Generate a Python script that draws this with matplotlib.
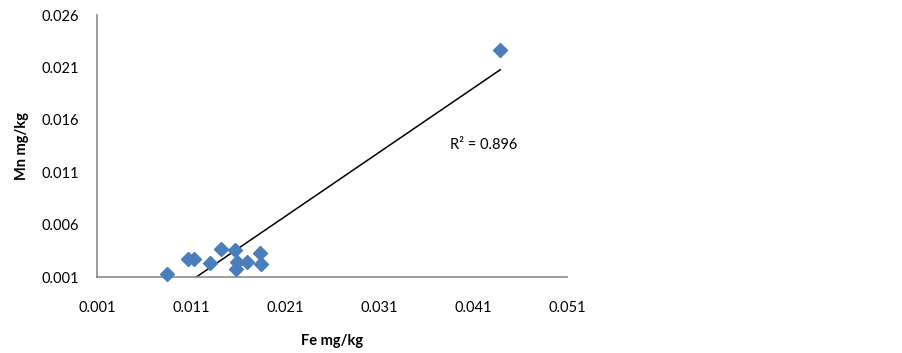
import numpy as np
import matplotlib
matplotlib.use("Agg")
import matplotlib.pyplot as plt

plt.rcParams['font.family'] = ['Lato', 'DejaVu Sans']

# Data
fe = [0.0084, 0.01065, 0.0113, 0.0130, 0.0142, 0.0157, 0.0159, 0.0158,
      0.0170, 0.0183, 0.0185, 0.0439]
mn = [0.00126, 0.00269, 0.00269, 0.00236, 0.00364, 0.00357, 0.00247,
      0.00174, 0.00247, 0.00333, 0.00222, 0.0227]
xticks = [0.001, 0.011, 0.021, 0.031, 0.041, 0.051]
yticks = [0.001, 0.006, 0.011, 0.016, 0.021, 0.026]
r2_label = "R² = 0.896"

fig = plt.figure(figsize=(9.03, 3.53), dpi=100)
ax = fig.add_axes([0.1074, 0.215, 0.5205, 0.7425])

# linear trendline
x = np.array(fe)
y = np.array(mn)
slope, intercept = np.polyfit(x, y, 1)
xs = np.array([x.min(), x.max()])
ax.plot(xs, slope * xs + intercept, color='black', lw=1.1, zorder=2)

ax.plot(fe, mn, linestyle='none', marker='D', markersize=7,
        color='#4a7ebb', markeredgecolor='#4a7ebb', zorder=3, clip_on=False)

ax.set_xlim(0.001, 0.051)
ax.set_ylim(0.001, 0.026)
ax.set_xticks(xticks)
ax.set_yticks(yticks)
ax.set_xticklabels([f"{v:.3f}" for v in xticks])
ax.set_yticklabels([f"{v:.3f}" for v in yticks])
ax.tick_params(length=0, labelsize=10.5)
ax.tick_params(axis='x', pad=17)
ax.tick_params(axis='y', pad=13)

for s in ['top', 'right']:
    ax.spines[s].set_visible(False)
for s in ['left', 'bottom']:
    ax.spines[s].set_color('#8c8c8c')
    ax.spines[s].set_linewidth(1.2)

ax.text(0.0386, 0.0136, r2_label, fontsize=10.5, va='center', ha='left')

ax.set_xlabel("Fe mg/kg", fontsize=10.5, fontweight='bold', labelpad=14)
ax.set_ylabel("Mn mg/kg", fontsize=10.5, fontweight='bold', labelpad=9)

fig.savefig("out.png", dpi=100)
